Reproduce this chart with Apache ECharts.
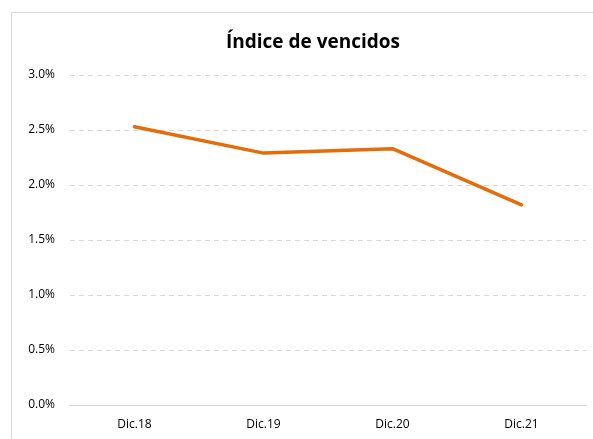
<!DOCTYPE html>
<html><head><meta charset="utf-8">
<script src="https://cdn.jsdelivr.net/npm/echarts@6/dist/echarts.min.js"></script>
<style>html,body{margin:0;padding:0;background:#fff}#c{width:593px;height:439px}</style>
</head><body><div id="c"></div>
<script>
const categories = ['Dic.18','Dic.19','Dic.20','Dic.21'];
const values = [2.53, 2.29, 2.33, 1.82];
const yTicks = [0, 0.5, 1.0, 1.5, 2.0, 2.5, 3.0];
const title = 'Índice de vencidos';

const chart = echarts.init(document.getElementById('c'), null, {renderer:'canvas'});
chart.setOption({
  animation:false,
  backgroundColor:'#fff',
  title:{text:title,left:308,top:28,textAlign:'center',
    textStyle:{fontFamily:'Open Sans',fontWeight:'bold',fontSize:19,color:'#000'}},
  graphic:[{type:'rect',shape:{x:11.5,y:12.5,width:600,height:450},
    style:{fill:'none',stroke:'#d9d9d9',lineWidth:1},silent:true}],
  grid:{left:70,right:7,top:75,bottom:34},
  xAxis:{type:'category',data:categories,boundaryGap:true,
    axisLine:{lineStyle:{color:'#d9d9d9',width:1}},axisTick:{show:false},
    axisLabel:{color:'#000',fontFamily:'Open Sans',fontSize:12,margin:14}},
  yAxis:{type:'value',min:yTicks[0],max:yTicks[yTicks.length-1],interval:0.5,
    axisLine:{show:false},axisTick:{show:false},
    axisLabel:{color:'#000',fontFamily:'Open Sans',fontSize:12,margin:15,
      formatter:v=>v.toFixed(1)+'%'},
    splitLine:{lineStyle:{color:'#d9d9d9',type:[5,4],width:1}}},
  series:[{type:'line',data:values,symbol:'none',
    lineStyle:{color:'#E46C0A',width:3.5,cap:'round',join:'round'}}]
});
</script></body></html>
